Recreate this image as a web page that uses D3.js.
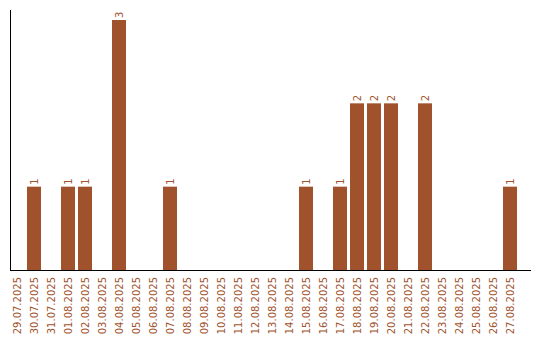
<!DOCTYPE html>
<html><head><meta charset="utf-8">
<script src="https://cdn.jsdelivr.net/npm/d3@7"></script>
<style>html,body{margin:0;padding:0;background:#fff;}svg{display:block;}</style>
</head><body>
<script>
const categories = ["29.07.2025","30.07.2025","31.07.2025","01.08.2025","02.08.2025","03.08.2025","04.08.2025","05.08.2025","06.08.2025","07.08.2025","08.08.2025","09.08.2025","10.08.2025","11.08.2025","12.08.2025","13.08.2025","14.08.2025","15.08.2025","16.08.2025","17.08.2025","18.08.2025","19.08.2025","20.08.2025","21.08.2025","22.08.2025","23.08.2025","24.08.2025","25.08.2025","26.08.2025","27.08.2025"];
const values = [0,1,0,1,1,0,3,0,0,1,0,0,0,0,0,0,0,1,0,1,2,2,2,0,2,0,0,0,0,1];

const W = 540, H = 340;
const color = "#a0522d";
const font = "DejaVu Sans, Verdana, sans-serif";
const svg = d3.select("body").append("svg").attr("width", W).attr("height", H);

const x = d3.scaleBand().domain(categories).range([10, 517]).paddingInner(3/17).paddingOuter(0).align(0);
const y = d3.scaleLinear().domain([0, 3]).range([270, 20]);

const data = categories.map((c, i) => ({c, v: values[i]}));

svg.selectAll("rect.bar").data(data).enter().append("rect")
  .attr("class","bar")
  .attr("x", d => x(d.c))
  .attr("y", d => y(d.v))
  .attr("width", x.bandwidth())
  .attr("height", d => y(0) - y(d.v))
  .attr("fill", color);

svg.selectAll("text.val").data(data.filter(d => d.v > 0)).enter().append("text")
  .attr("class","val")
  .attr("transform", d => `translate(${x(d.c) + x.bandwidth()/2},${y(d.v) - 2}) rotate(-90)`)
  .attr("text-anchor","start")
  .attr("dy","0.35em")
  .attr("font-family", font)
  .attr("font-size","10px")
  .attr("fill", color)
  .text(d => d.v);

// axes lines
svg.append("line").attr("x1",10.5).attr("x2",10.5).attr("y1",10).attr("y2",270.5).attr("stroke","#000").attr("stroke-width",1);
svg.append("line").attr("x1",10).attr("x2",531).attr("y1",270.5).attr("y2",270.5).attr("stroke","#000").attr("stroke-width",1);

// category labels
const xAxis = d3.axisBottom(x).tickSize(0).tickPadding(0);
const gx = svg.append("g").attr("transform","translate(0,270)").call(xAxis);
gx.select(".domain").remove();
gx.selectAll("text")
  .attr("transform","translate(0,7) rotate(-90)")
  .attr("x",0).attr("y",0).attr("dy","0.35em")
  .attr("text-anchor","end")
  .attr("font-family", font)
  .attr("font-size","10px")
  .attr("fill", color);
</script>
</body></html>
